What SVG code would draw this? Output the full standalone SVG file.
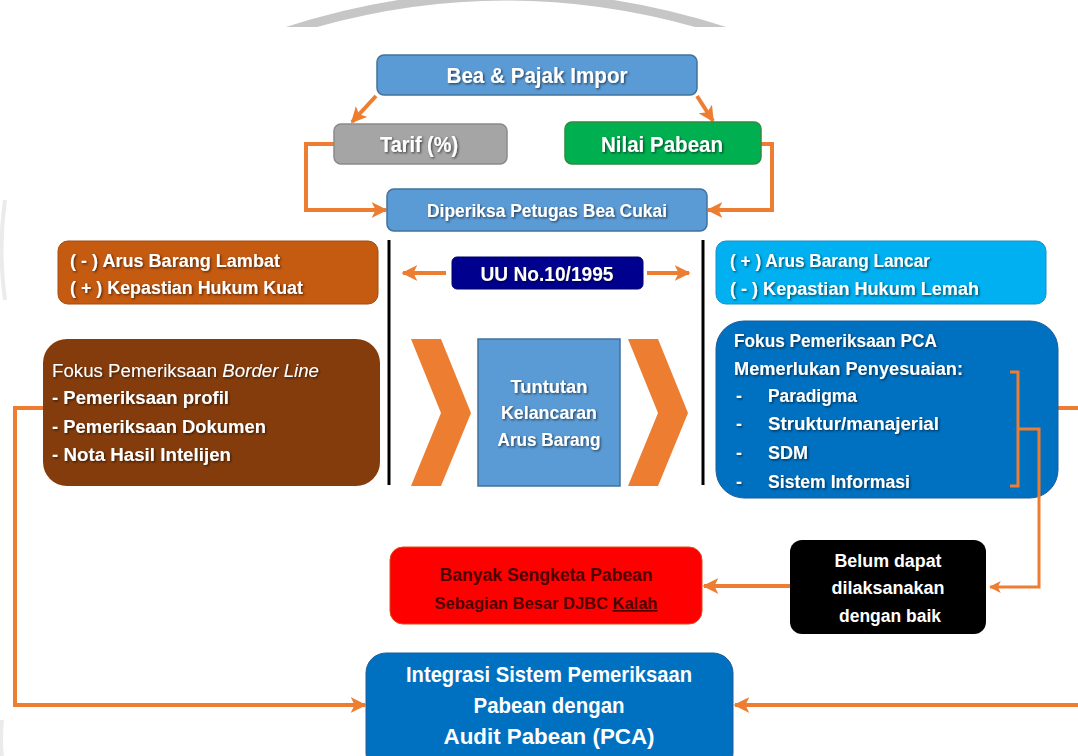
<svg xmlns="http://www.w3.org/2000/svg" width="1078" height="756" viewBox="0 0 1078 756">
<defs>
<style>
.t{font-family:"Liberation Sans",Arial,sans-serif;font-weight:bold;fill:#fff}
.r{fill:#4d0000}
.sh{filter:url(#ds)}
.c{fill:none;stroke:#ed7d31;stroke-width:4}
.cb{fill:none;stroke:#ed7d31;stroke-width:3}
</style>
<filter id="ds" x="-10%" y="-30%" width="120%" height="160%">
<feDropShadow dx="1.2" dy="1.2" stdDeviation="0.8" flood-color="#000" flood-opacity="0.6"/>
</filter>
<marker id="ah" viewBox="0 0 10 10" refX="9" refY="5" markerWidth="4" markerHeight="4" orient="auto" markerUnits="strokeWidth">
<path d="M0,0 L10,5 L0,10 L2.5,5 Z" fill="#ed7d31"/>
</marker>
<clipPath id="topclip"><rect x="0" y="0" width="1078" height="27"/></clipPath>
</defs>
<rect width="1078" height="756" fill="#fff"/>
<g id="watermark" fill="none" stroke="#c6c6c6">
<path d="M285,32 Q506,-40 727,32" stroke-width="9" clip-path="url(#topclip)"/>
<path d="M5,200 Q-2,250 5,300" stroke-width="4" opacity="0.35"/>
<path d="M2,720 Q0,740 2,756" stroke-width="4" opacity="0.35"/>
</g>
<g id="connectors">
<line class="c" x1="376" y1="96" x2="352" y2="122" marker-end="url(#ah)"/>
<line class="c" x1="697" y1="96" x2="713" y2="121" marker-end="url(#ah)"/>
<polyline class="c" points="334,144 306,144 306,210 386,210" marker-end="url(#ah)"/>
<polyline class="c" points="761,144 772,144 772,210 708,210" marker-end="url(#ah)"/>
<line x1="389" y1="240" x2="389" y2="485" stroke="#000" stroke-width="3"/>
<line x1="703" y1="240" x2="703" y2="485" stroke="#000" stroke-width="3"/>
<line class="c" x1="446" y1="273" x2="403" y2="273" marker-end="url(#ah)"/>
<line class="c" x1="647" y1="273" x2="689" y2="273" marker-end="url(#ah)"/>
<polyline class="c" points="43,408 15,408 15,705 365,705" marker-end="url(#ah)"/>
<line class="c" x1="1058" y1="408" x2="1078" y2="408"/>
<line class="c" x1="1078" y1="705" x2="735" y2="705" marker-end="url(#ah)"/>
<line class="c" x1="790" y1="586" x2="704" y2="586" marker-end="url(#ah)"/>
</g>
<g id="n-bea">
<rect x="377" y="55" width="320" height="40" rx="7" fill="#5b9bd5" stroke="#41719c" stroke-width="1.5"/>
<text class="t sh" x="537" y="83" font-size="22" text-anchor="middle" textLength="181" lengthAdjust="spacingAndGlyphs">Bea &amp; Pajak Impor</text>
</g>
<g id="n-tarif">
<rect x="334" y="124" width="173" height="40" rx="7" fill="#a5a5a5" stroke="#8a8a8a" stroke-width="1.5"/>
<text class="t sh" x="419" y="152" font-size="22" text-anchor="middle" textLength="78" lengthAdjust="spacingAndGlyphs">Tarif (%)</text>
</g>
<g id="n-nilai">
<rect x="565" y="122" width="196" height="42" rx="7" fill="#00b050" stroke="#2e8b3e" stroke-width="1.5"/>
<text class="t sh" x="662" y="152" font-size="22" text-anchor="middle" textLength="122" lengthAdjust="spacingAndGlyphs">Nilai Pabean</text>
</g>
<g id="n-diperiksa">
<rect x="387" y="189" width="320" height="42" rx="7" fill="#5b9bd5" stroke="#41719c" stroke-width="1.5"/>
<text class="t sh" x="547" y="217" font-size="19" text-anchor="middle" textLength="240" lengthAdjust="spacingAndGlyphs">Diperiksa Petugas Bea Cukai</text>
</g>
<g id="n-lambat">
<rect x="58" y="241" width="320" height="63" rx="10" fill="#c55a11" stroke="#a34a0e" stroke-width="1"/>
<text class="t sh" x="70" y="267" font-size="18" textLength="210" lengthAdjust="spacingAndGlyphs">( - ) Arus Barang Lambat</text>
<text class="t sh" x="70" y="294" font-size="18" textLength="233" lengthAdjust="spacingAndGlyphs">( + ) Kepastian Hukum Kuat</text>
</g>
<g id="n-border">
<rect x="43" y="339" width="337" height="147" rx="24" fill="#843c0c"/>
<text class="t sh" x="52" y="377" font-size="18" textLength="267" lengthAdjust="spacingAndGlyphs"><tspan font-weight="normal">Fokus Pemeriksaan </tspan><tspan font-style="italic" font-weight="normal">Border Line</tspan></text>
<text class="t sh" x="52" y="404" font-size="18" textLength="177" lengthAdjust="spacingAndGlyphs">-  Pemeriksaan profil</text>
<text class="t sh" x="52" y="433" font-size="18" textLength="214" lengthAdjust="spacingAndGlyphs">-  Pemeriksaan Dokumen</text>
<text class="t sh" x="52" y="461" font-size="18" textLength="179" lengthAdjust="spacingAndGlyphs">-  Nota Hasil Intelijen</text>
</g>
<g id="n-uu">
<rect x="452" y="257" width="191" height="32" rx="5" fill="#00008f" stroke="#00006a" stroke-width="1"/>
<text class="t sh" x="547" y="281" font-size="20" text-anchor="middle" textLength="133" lengthAdjust="spacingAndGlyphs">UU No.10/1995</text>
</g>
<g id="n-chevrons" fill="#ed7d31">
<polygon points="411,339 441,339 471,413 441,486 411,486 441,413"/>
<polygon points="628,339 658,339 688,413 658,486 628,486 658,413"/>
</g>
<g id="n-tuntutan">
<rect x="478" y="339" width="142" height="147" fill="#5b9bd5" stroke="#41719c" stroke-width="1.5"/>
<text class="t sh" x="549" y="393" font-size="19" text-anchor="middle" textLength="77" lengthAdjust="spacingAndGlyphs">Tuntutan</text>
<text class="t sh" x="549" y="419" font-size="19" text-anchor="middle" textLength="96" lengthAdjust="spacingAndGlyphs">Kelancaran</text>
<text class="t sh" x="549" y="446" font-size="19" text-anchor="middle" textLength="103" lengthAdjust="spacingAndGlyphs">Arus Barang</text>
</g>
<g id="n-lancar">
<rect x="716" y="241" width="330" height="63" rx="10" fill="#00b0f0" stroke="#1a8fc4" stroke-width="1"/>
<text class="t sh" x="730" y="267" font-size="18" textLength="200" lengthAdjust="spacingAndGlyphs">( + ) Arus Barang Lancar</text>
<text class="t sh" x="730" y="295" font-size="18" textLength="249" lengthAdjust="spacingAndGlyphs">( - ) Kepastian Hukum Lemah</text>
</g>
<g id="n-pca">
<rect x="716" y="321" width="342" height="177" rx="28" fill="#0070c0" stroke="#1f5c99" stroke-width="1"/>
<text class="t sh" x="734" y="347" font-size="18" textLength="203" lengthAdjust="spacingAndGlyphs">Fokus Pemeriksaan PCA</text>
<text class="t sh" x="734" y="375" font-size="18" textLength="229" lengthAdjust="spacingAndGlyphs">Memerlukan Penyesuaian:</text>
<text class="t sh" x="736" y="402" font-size="18">-</text>
<text class="t sh" x="768" y="402" font-size="18" textLength="89" lengthAdjust="spacingAndGlyphs">Paradigma</text>
<text class="t sh" x="736" y="430" font-size="18">-</text>
<text class="t sh" x="768" y="430" font-size="18" textLength="171" lengthAdjust="spacingAndGlyphs">Struktur/manajerial</text>
<text class="t sh" x="736" y="459" font-size="18">-</text>
<text class="t sh" x="768" y="459" font-size="18" textLength="40" lengthAdjust="spacingAndGlyphs">SDM</text>
<text class="t sh" x="736" y="488" font-size="18">-</text>
<text class="t sh" x="768" y="488" font-size="18" textLength="142" lengthAdjust="spacingAndGlyphs">Sistem Informasi</text>
<polyline class="cb" points="1010,372 1018,372 1018,486 1010,486"/>
<polyline class="cb" points="1018,429 1039,429 1039,587 990,587" marker-end="url(#ah)"/>
</g>
<g id="n-sengketa">
<rect x="390" y="547" width="312" height="77" rx="13" fill="#ff0000" stroke="#e04a1a" stroke-width="1"/>
<text class="t r" x="546" y="581" font-size="18" text-anchor="middle" textLength="213" lengthAdjust="spacingAndGlyphs">Banyak Sengketa Pabean</text>
<text class="t r" x="546" y="609" font-size="16.5" text-anchor="middle">Sebagian Besar DJBC <tspan text-decoration="underline">Kalah</tspan></text>
</g>
<g id="n-belum">
<rect x="790" y="540" width="196" height="94" rx="12" fill="#000"/>
<text class="t" x="888" y="567" font-size="18" text-anchor="middle" textLength="107" lengthAdjust="spacingAndGlyphs">Belum dapat</text>
<text class="t" x="888" y="594" font-size="18" text-anchor="middle" textLength="113" lengthAdjust="spacingAndGlyphs">dilaksanakan</text>
<text class="t" x="890" y="622" font-size="18" text-anchor="middle" textLength="102" lengthAdjust="spacingAndGlyphs">dengan baik</text>
</g>
<g id="n-integrasi">
<rect x="366" y="653" width="367" height="120" rx="20" fill="#0070c0" stroke="#1f5c99" stroke-width="1"/>
<text class="t" x="549" y="682" font-size="22" text-anchor="middle" textLength="286" lengthAdjust="spacingAndGlyphs">Integrasi Sistem Pemeriksaan</text>
<text class="t" x="549" y="713" font-size="22" text-anchor="middle" textLength="151" lengthAdjust="spacingAndGlyphs">Pabean dengan</text>
<text class="t" x="549" y="744" font-size="22" text-anchor="middle" textLength="211" lengthAdjust="spacingAndGlyphs">Audit Pabean (PCA)</text>
</g>
</svg>
